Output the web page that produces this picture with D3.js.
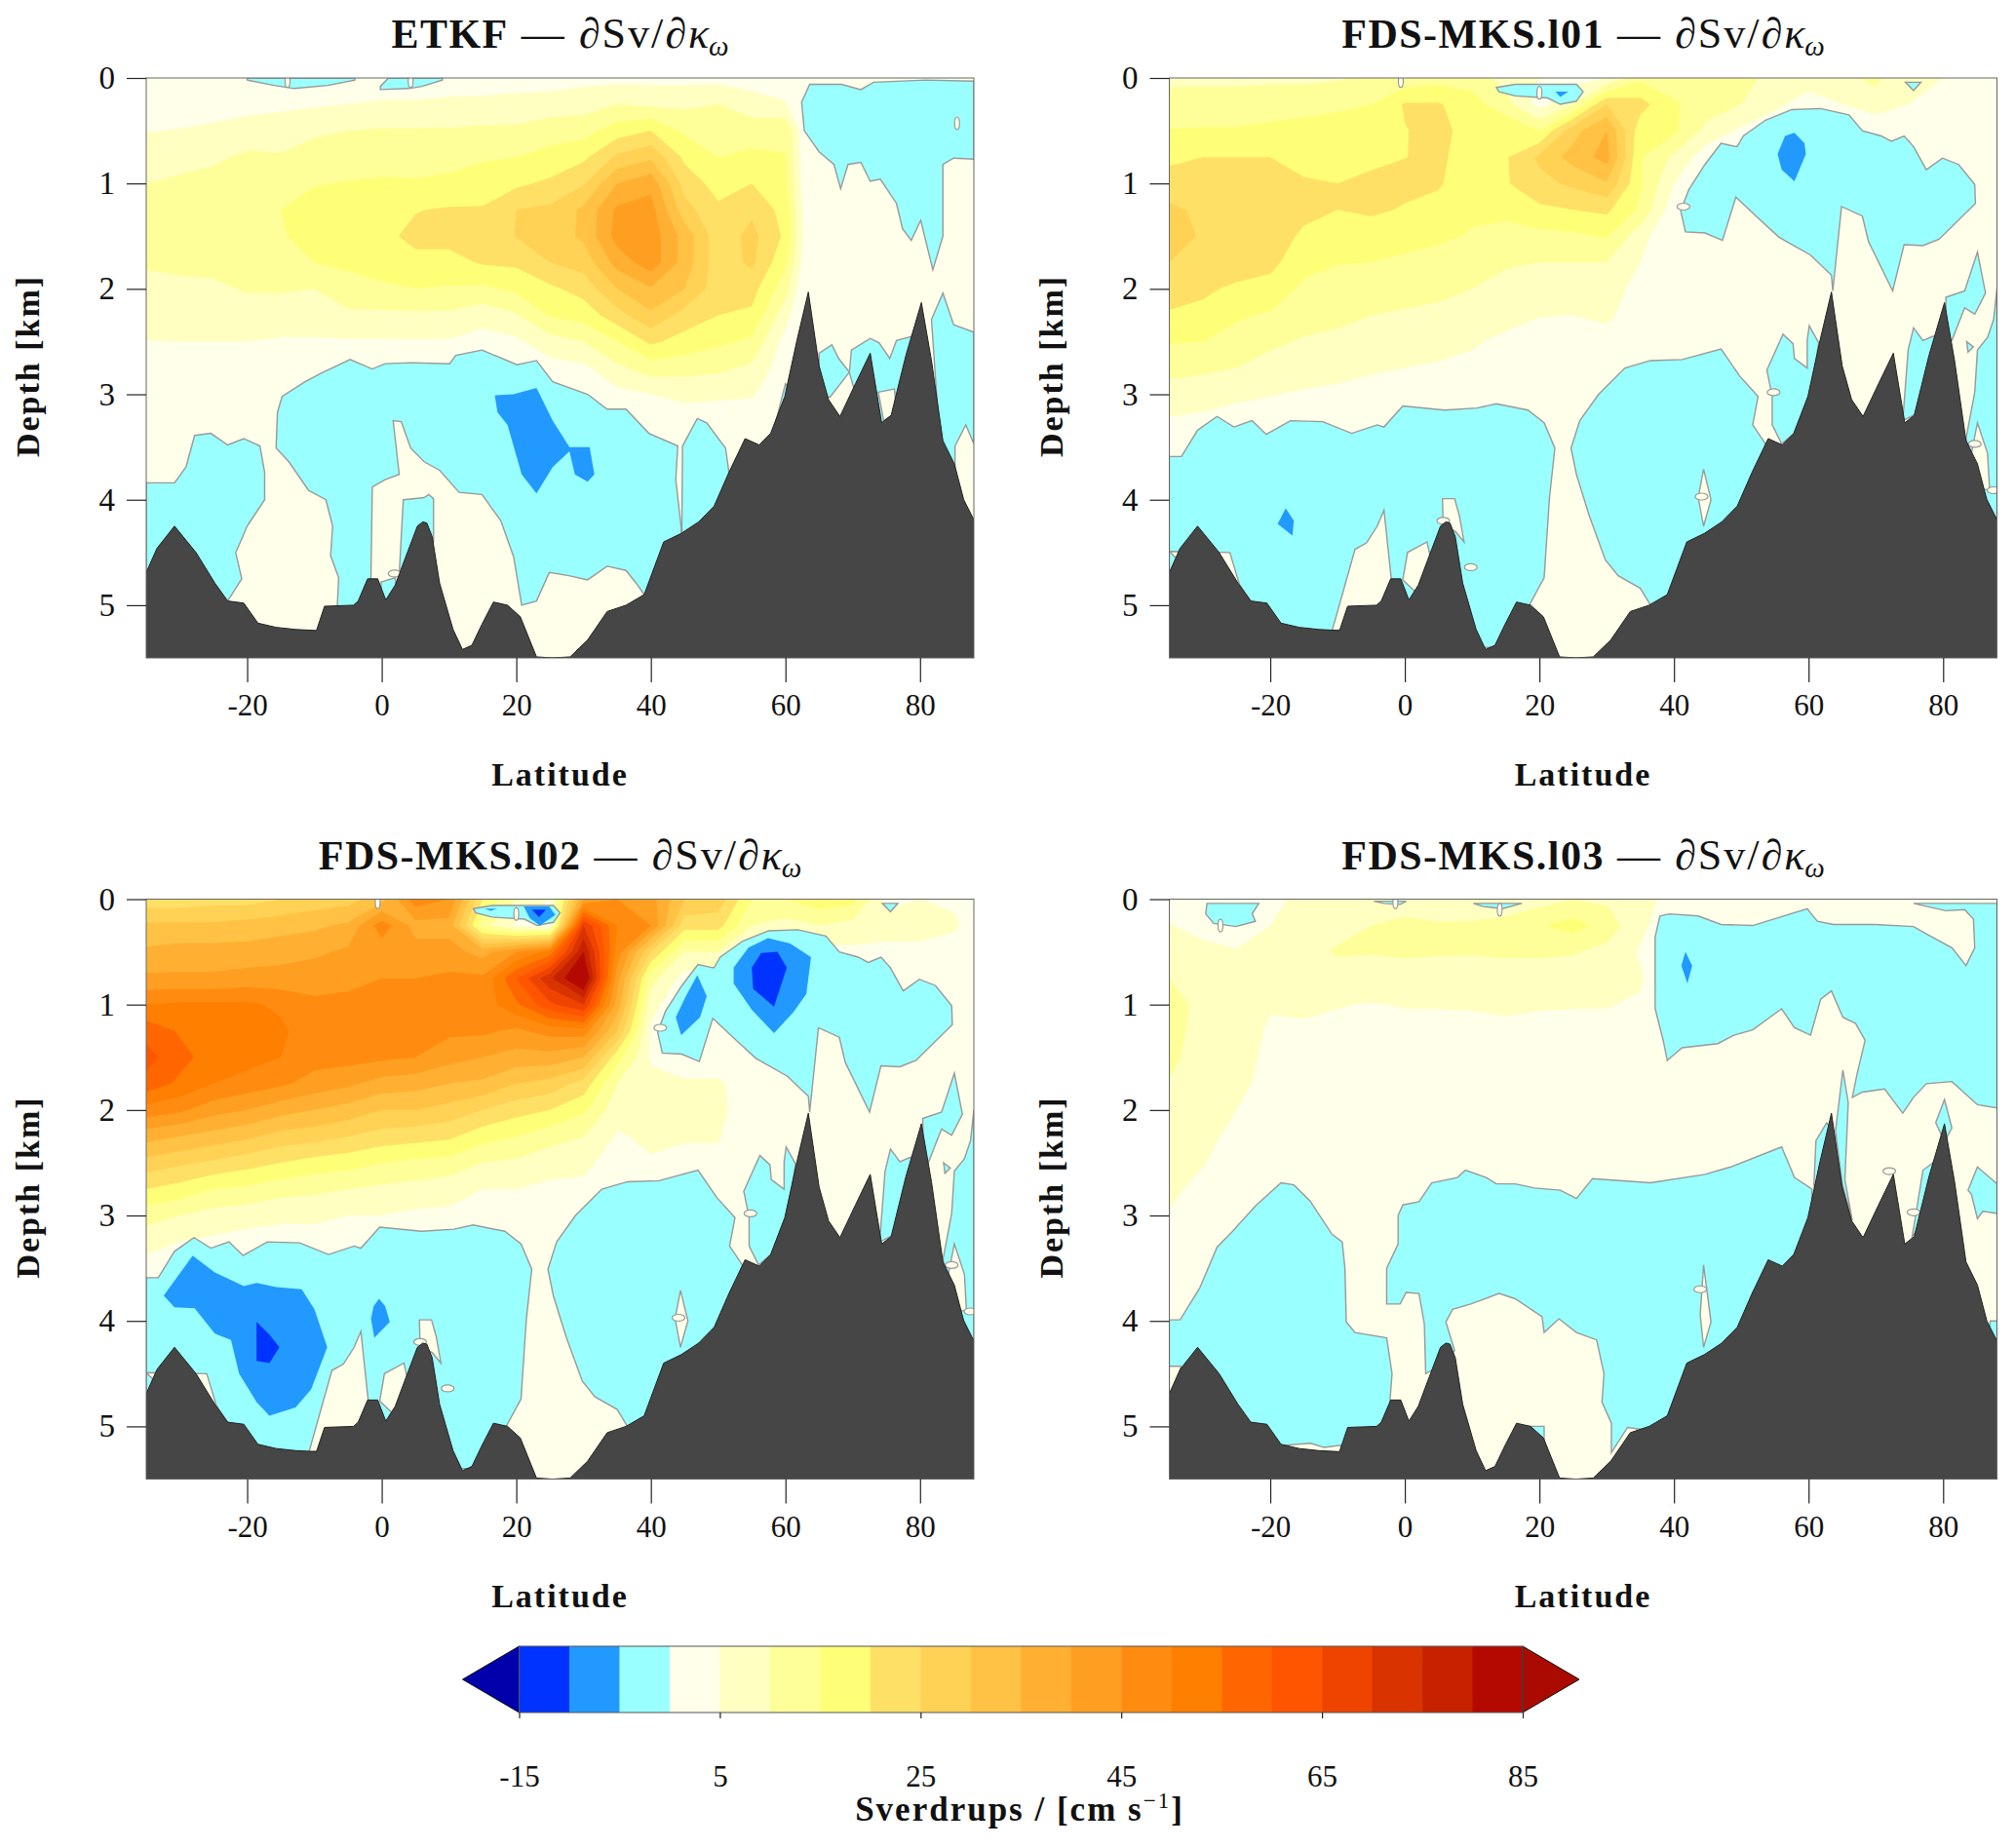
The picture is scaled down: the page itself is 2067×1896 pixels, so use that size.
<!DOCTYPE html>
<html>
<head>
<meta charset="utf-8">
<script src="https://cdn.jsdelivr.net/npm/d3@7"></script>
<style>
	html, body { margin: 0; padding: 0; background: #fff; }
	text { font-family: "Liberation Serif", serif; fill: #111; }
	.tick line { stroke: #222; stroke-width: 1.2; }
</style>
</head>
<body>
<svg id="chart" width="2067" height="1896"></svg>
<script>
// grid of the warm field: one profile per latitude, one value per depth level (missing = 0)
const latitudes = [-35, -30, -25, -20, -15, -10, -5, 0, 5, 10, 15, 20, 25, 30, 35, 40, 45, 50, 55, 60, 65, 70, 75, 80, 85, 90];
const depthLevels = [0, 0.25, 0.5, 0.75, 1, 1.25, 1.5, 1.75, 2, 2.25, 2.5, 2.75, 3, 3.25, 3.5];

const etkfField = [
	[1,3,4.8,7.5,10,12,12,10.5,8.7,6.7,4.9,3.5,2.5,2,1.5],
	[1,3,5.2,8,11,13,13,11,9,7,5,3.5,2.5,2,1.5],
	[1,3.2,5.8,9,12,13.5,13.5,11.5,9,7,5,3.5,2.5,2,1],
	[1,3.5,7,11,13,14,14,12.5,10.5,7.5,5,3.5,2.5,1.5,1],
	[1,4,7.5,10.5,13,15,14.5,12.5,10.5,7.5,4.5,3.5,2,1,1],
	[1.5,4.5,9,12.5,14.8,16.5,17,15,10,7.5,4.5,3.5,2,1,1],
	[2,5,10,13,15.2,17,18,16,13,9,4.5,3,2,1,1],
	[2.5,5.5,10.5,13.5,15.5,18,19,17.5,14,9,4.5,3,2,1,1],
	[2.5,5.5,10.5,13,15.5,19.8,21,19,15,9,4.6,3,2,1,1],
	[2.5,6,10.5,13.5,16,20.5,21.5,18.5,14.5,9,4.5,3,2,1,1],
	[3,6,11,14.5,17,20.5,22,20.5,14,7,3,2,2,1,1],
	[3,6.5,11,15,19,25,25.2,21,16,9.5,4,2,2,1,1],
	[3,7,13,16.5,21,26,27,25,19,15.5,8,3,2,1,1],
	[3.5,8,13,19,24.5,31,31,27,22,17,10,4,2,1,1],
	[3.5,10,17.5,26,35,41,42,37,30,23,15,9,3.5,1,1],
	[3.5,9,20,29,38.5,42,43,43,34.5,29,21,12.5,5,4,1],
	[3.5,9,14,19,23,27,33,33,30,23,18,12,6,3,1],
	[3.5,10,13,15,18,21,22,22,22,20,16,11,6,2,1],
	[3,7,13,16,20,24,26.5,26,22,19,14,9,5.5,2,1],
	[2,5.5,14,15.2,16,18,19,16,12,7,3,2,1,1,1],
	[0,-8,-8,-8,-8,-8,-8,-8,-8,-8],
	[], [], [], [], []
];

const l01Field = [
	[9,12,15.2,19,22,26,27,25,22,19.5,15.3,11.5,8,4.5,2],
	[9,12,15.5,20,22,24,24.5,23,21,18.5,15,11,7,4,2],
	[9,12,15.5,20,22,24,24,23,19,15.5,13.5,10,6,3,2],
	[9,13,16,20,22.5,23,23,21.5,18,14.5,11,8,5.2,3,2],
	[9,13,17,18.5,20.5,21.5,19,16.5,14,12,9.5,7,4.5,3,2],
	[9.5,14,17.5,18.5,20,20,17.5,15.2,13,11,9,6.5,4,2,1],
	[11,15,18,19,21,21,17,15,12.5,10,8,5.5,3.5,2,1],
	[12,20.5,19.8,19.9,21.5,19.5,17,14,11.5,9.5,7,5,3,2,1],
	[13,20.5,21.5,21,20.5,18.5,16,13,11,9,6.5,4.5,3,2,1],
	[13,17,18,17.5,17,16,14.5,12,10,8,5.5,4,3,1,1],
	[8,12,19,19.5,19.5,16.5,13,10.5,8.5,6.5,4,3,2],
	[5,3,15,26,23.5,19,13.5,10,7.5,5.2,3,2],
	[3,10,28,32,26,20,14,10,7,5,3],
	[5,25,35,37,29.5,21,15.5,10,6,5.5,4],
	[14,22,17,15.5,15.5,14,7,5,4.2,3.5],
	[13,15.5,16,9,5,2],
	[12,13,8,2],
	[11,10,4],
	[9,6,2],
	[7,3],
	[9,5],
	[11,8],
	[6,5,3],
	[5,4],
	[4,3],
	[]
];

const l02Field = [
	[22,31,36,41,50,58,62,58,48,37,28,20,12,7,3],
	[22,31,37,41,51,54.5,56.5,54,46,35,26,18,10,5,2],
	[23,31,37,41,51,53,53,50,42,33,24,15,8,4,2],
	[23,32,37,42,51,52,52,48,40,31,22,14,7,3,1],
	[25,33,38,42,49,51,50,46,37,28,20,12,6,3,1],
	[27,34,39,43,46,47,47,43,35,27,18,11,6,3],
	[28,36,41,44,46,47,47,41,33,25,17,10,5,2],
	[33,48,42,45,47,47,46,38,30,23,15,9,5],
	[48,38,42,45,47,47,45,37,30,22,14,8,4],
	[45,38,42,46,47,46,42,35,28,21,13,7,4],
	[20,12,38,46,47,46,40,34,25,17,10,5,3],
	[10,4,45,60,54,44,38,30,22,15,9,5,3],
	[5,3,52,74,64,47,38,28,20,12,7,4,3],
	[40,70,80,88,70,48,35,23,16,10,6,4],
	[45,50,48,42,38,30,17,10,7,4.5,3,1],
	[42,45,25,12,7,4,4.5,6,7,6,4.5,3,2],
	[30,22,10,3,0,0,3,5.5,7,5.5,3.5,2],
	[28,22,10,3,0,0,3,5.5,7,5.5,3.5,2],
	[15,10,1,0,0,0,3,3],
	[15,8],
	[18,10,3],
	[17,8,4],
	[3,8,3],
	[5,8,3],
	[4,6,2],
	[]
];

const l03Field = [
	[3,5.2,7.5,10,11.5,11.5,11,9.8,8.5,7.5,6.5,5.7,4.8,3.5,2],
	[3,3.8,6,8,9,8.5,8,7.5,7,6,5.2,4,3,2,1],
	[3,3.5,5.2,7,7.5,7,6.8,6.2,5,4,3,2,1],
	[4,5,7.5,7.5,5.3,4.5,4,3.5,3,2.5,2,1,1],
	[6,7,8,7,5.6,4.5,4,3,3,2],
	[8,8.5,10.5,8,5.2,4],
	[8,10,10.3,7.5,4.8,4],
	[6,12,10.8,7.5,5.2,4],
	[7,10.5,10.5,7.5,5.2,4],
	[5,11,10.4,7.5,5.3,4],
	[6,12,10.8,7.5,5.8,4],
	[8,14.5,10.8,7.5,5.3,4],
	[10,17,10.4,7.5,5.2,4],
	[9,13,8.5,7.5,5.2,4],
	[6,6,4.5,5.5,4.5,3],
	[4,2],
	[], [], [], [], [], [], [], [], [], []
];

// sea floor, [latitude, depth km]
const bathymetry = [
	[-35,4.69],[-33.4,4.46],[-30.8,4.25],[-27.6,4.5],[-24.8,4.79],[-22.9,4.96],[-20.5,4.98],[-18.4,5.17],[-15.7,5.21],[-12.8,5.23],[-9.7,5.24],[-8.5,5.01],
	[-4.2,5],[-3.5,4.96],[-2.1,4.75],[-0.6,4.75],[0.6,4.95],[2,4.81],[3.4,4.57],[5.3,4.25],[6.1,4.21],[6.7,4.22],[7.5,4.35],[8.6,4.79],[10.6,5.23],[12,5.42],
	[13.4,5.38],[14.9,5.18],[16.6,4.97],[18.7,5],[20.6,5.11],[23,5.49],[25.4,5.5],[28,5.49],[30.6,5.33],[33.5,5.06],[36.3,5],[39,4.9],[41.9,4.4],[44.5,4.32],
	[47.1,4.21],[49.4,4.06],[51.6,3.74],[54,3.42],[56.1,3.48],[57.8,3.37],[59.9,3.02],[61.7,2.49],[63.4,2.03],[65,2.73],[66.4,3.05],[68.1,3.21],[70.4,2.9],
	[72.6,2.61],[74.3,3.27],[75.7,3.2],[77.9,2.63],[80.2,2.13],[81.7,2.68],[83.4,3.44],[85.1,3.66],[86.5,4],[88,4.19]
];

// isolines below the warm field, [level, [[latitude, depth], ...]], painted in order
const etkfRings = [
	[-5, [[-20,0.02],[-16,0.07],[-13,0.1],[-8,0.07],[-4,0.02],[-4,0],[-20,0]]],
	[-5, [[-0.2,0.11],[4,0.1],[6,0.08],[9,0.02],[9,0],[1,0],[-0.2,0.08]]],
	[-5, [[62.4,0.23],[62.8,0.5],[65,0.7],[67.2,0.82],[68.2,1.05],[69.3,0.82],[71.2,0.8],[72.6,0.98],[74.1,0.96],[76.5,1.19],[77.4,1.43],[78.7,1.54],[80.1,1.35],[81.9,1.82],[83.4,1.5],[83.4,0.82],[85,0.76],[88,0.77],[88,0.03],[80.8,0.02],[73.1,0.04],[71.2,0.11],[68.3,0.06],[63.6,0.06]]],
	[-5, [[-14.8,3.02],[-15.5,3.17],[-15.7,3.51],[-13.8,3.64],[-10.9,3.91],[-8.3,4],[-7.3,4.25],[-7.6,4.53],[-6.4,4.74],[-6.6,5],[-6.2,5.08],[-1.6,5.08],[-1.6,4.74],[-1.4,3.88],[0.5,3.81],[2.6,3.76],[1.7,3.25],[2.9,3.26],[4.3,3.51],[6.3,3.64],[8.6,3.72],[11.5,3.93],[14.9,3.95],[17.7,4.2],[19.6,4.54],[20.8,5],[23,4.96],[24.9,4.69],[27.8,4.72],[30.6,4.76],[33.5,4.63],[36.3,4.67],[37.8,4.79],[39,4.9],[39.7,5.2],[44.5,4.45],[44.5,4.26],[43.7,3.81],[44,3.49],[39.7,3.37],[36.3,3.14],[33.5,3.14],[30.6,3],[25.4,2.88],[23,2.68],[20.1,2.72],[14.9,2.58],[11,2.63],[10.1,2.71],[4.4,2.7],[0.5,2.71],[-1.4,2.76],[-4.7,2.67],[-9,2.8],[-11.4,2.88]]],
	[-5, [[44.7,3.49],[46.9,3.23],[48.3,3.27],[51.1,3.51],[51.6,3.74],[52.1,4.15],[44.7,4.35],[44.6,4.26]]],
	[-5, [[3.2,4],[6.3,3.98],[7,3.95],[7.7,3.99],[7.7,4.4],[2.6,4.7]]],
	[-5, [[-0.1,4.78],[2,4.74],[2.5,5],[0,5]]],
	[-5, [[-35,3.84],[-30.8,3.84],[-29.1,3.69],[-27.8,3.39],[-25.4,3.37],[-22.9,3.48],[-20.5,3.42],[-18.1,3.49],[-17.4,3.74],[-17.4,4],[-20,4.25],[-21,4.4],[-21.7,4.5],[-20.8,4.75],[-22.9,4.96],[-25,5.1],[-35,5.1]]],
	[-5, [[65,2.61],[66.9,2.53],[67.9,2.66],[69.5,2.79],[66.6,3.03],[65,3]]],
	[-5, [[69.5,2.79],[69.8,2.58],[72.6,2.47],[73.9,2.51],[75.5,2.66],[76.5,2.49],[78.8,2.45],[80.2,2.6],[77,3.2],[74.3,3.3],[72.6,2.8],[70.4,3]]],
	[0, [[73.8,2.98],[76.2,2.95],[76.5,3.17],[74.6,3.25]]],
	[-5, [[81.7,2.29],[83.4,2.04],[85,2.34],[88,2.41],[88,3.47],[86.8,3.29],[85.2,3.49],[85.2,3.69],[83,3.5]]],
	[-5, [[58,3.4],[60,2.9],[61,3],[59,3.5]]],
	[-10, [[16.8,3.01],[19.6,3],[23,2.94],[25.4,3.25],[27.9,3.5],[30.9,3.5],[31.6,3.76],[30.6,3.83],[28.7,3.76],[27.9,3.54],[25.4,3.69],[23,3.94],[20.8,3.76],[18.7,3.29],[17.2,3.17]]]
];
const etkfLoops = [[85.5,0.43],[1.9,4.7],[-14,0.03],[4.3,0.03]];

// l01 and l02 share their zero isoline
const fdsZeroRings = [
	[-5, [[49.2,0.65],[47,0.62],[44.6,0.82],[42.2,1.06],[41,1.26],[41.7,1.46],[44.6,1.47],[47.2,1.54],[49.2,1.13],[52.2,1.31],[55.6,1.51],[60.3,1.68],[63.4,1.87],[63.6,2.02],[64.9,1.22],[68,1.31],[68.9,1.55],[72.5,2.02],[74.2,1.58],[77,1.59],[79.4,1.53],[84.8,1.19],[84.7,1.01],[82.3,0.82],[79.9,0.76],[77.5,0.87],[75.6,0.65],[74.2,0.55],[72.3,0.6],[70.8,0.55],[68,0.5],[66,0.35],[61.8,0.29],[57.5,0.3],[53.6,0.4],[50.3,0.55],[49.4,0.65]]],
	[-5, [[13.6,0.09],[16.4,0.06],[23.1,0.06],[25.5,0.06],[26.5,0.13],[25.5,0.22],[23.1,0.25],[21.2,0.19],[16.4,0.17],[14,0.13]]],
	[-5, [[74.4,0.04],[76.7,0.04],[75.6,0.12]]],
	[-5, [[-35,3.59],[-33.2,3.59],[-30.8,3.34],[-27.9,3.21],[-25.4,3.31],[-22.7,3.25],[-20.6,3.38],[-17,3.25],[-12.2,3.26],[-7.9,3.37],[-4.1,3.29],[-3.1,3.31],[-0.3,3.11],[5.9,3.15],[10.7,3.13],[13.6,3.09],[18.3,3.15],[20.7,3.27],[22.3,3.51],[21.5,3.98],[20.7,4.74],[18.5,5],[18.5,5.4],[-35,5.4]]],
	[0, [[-35,4.49],[-26,4.5],[-24.6,4.8],[-22.9,4.96],[-30,4.8]]],
	[0, [[-10.8,5.24],[-7.4,4.47],[-5.7,4.41],[-4.1,4.25],[-3.1,4.1],[-2,4.76],[-2,5.2]]],
	[0, [[-0.3,4.76],[0.4,4.5],[3.3,4.4],[4,4.6],[2,4.9]]],
	[0, [[5.6,3.99],[7.4,3.99],[8.1,4.15],[8.8,4.4],[7.5,4.3],[5.7,4.25]]],
	[-5, [[24.7,3.51],[26,3.25],[28.8,3],[32.7,2.75],[36.5,2.68],[41.2,2.67],[47,2.57],[49.8,2.83],[52.5,3.02],[51.7,3.29],[53.6,3.47],[53.6,4.15],[45,5],[36.5,5],[35,4.84],[31.7,4.72],[29.8,4.57],[27.4,4.15],[25.5,3.76]]],
	[0, [[44.4,3.71],[45.5,4],[44.4,4.25],[43.6,3.98]]],
	[-5, [[53.8,2.77],[56.2,2.43],[57.7,2.52],[57.9,2.66],[59.8,2.75],[59.8,2.49],[60.1,2.35],[61.5,2.51],[61.1,2.68],[60.3,2.98],[57.9,3.37],[56,3.47],[54.6,3.29],[54.6,3.02]]],
	[-5, [[74,3.25],[74.8,2.58],[75.6,2.37],[77,2.49],[78.5,2.45],[79.9,2.44],[80,3],[75.6,3.2]]],
	[-5, [[80.4,2.08],[83.2,2.02],[85.1,1.65],[86.3,2.04],[84.7,2.24],[83.2,2.18],[81.3,2.49],[80.5,2.5]]],
	[-5, [[88,2],[87.5,2.29],[86.6,2.46],[85.1,2.58],[84.7,2.98],[83.4,3.42],[85,3.8],[88,4.2]]],
	[0, [[85.1,3.27],[86.6,3.56],[86.9,3.91],[86,3.9],[84.2,3.56]]],
	[-5, [[83.5,2.5],[84.5,2.55],[83.7,2.6]]]
];
const fdsLoops = [[-0.6,0.03],[20,0.14],[41.4,1.22],[5.7,4.2],[9.8,4.64],[54.8,2.98],[44.1,3.97],[84.7,3.47],[87.5,3.91]];

const l01Rings = fdsZeroRings.concat([
	[-10, [[22.4,0.13],[24.3,0.13],[23.1,0.18]]],
	[-10, [[56.5,0.55],[57.9,0.52],[59.4,0.62],[59.6,0.72],[57.9,0.98],[56,0.87],[55.4,0.72]]],
	[-10, [[-17.7,4.08],[-16.5,4.2],[-16.7,4.34],[-18.9,4.23]]]
]);

const l02Rings = fdsZeroRings.concat([
	[-10, [[-28.1,3.38],[-24.8,3.54],[-20.5,3.67],[-18.6,3.64],[-15.7,3.68],[-11.9,3.7],[-10,3.89],[-8.1,4.25],[-10.5,4.65],[-12.8,4.82],[-16.7,4.9],[-18.6,4.77],[-21.2,4.5],[-22.4,4.18],[-24.8,4.12],[-27.8,3.88],[-30.8,3.87],[-32.4,3.76]]],
	[-15, [[-18.6,4.01],[-16.7,4.13],[-15.2,4.25],[-16.7,4.4],[-18.6,4.38]]],
	[-10, [[-0.4,3.79],[0.5,3.86],[1.2,4.01],[-1.1,4.16],[-1.6,3.98],[-1.2,3.86]]],
	[-10, [[46.9,0.72],[48.3,0.92],[47.3,1.12],[44.5,1.29],[43.7,1.12],[45.2,0.92]]],
	[-10, [[54.5,0.46],[57.4,0.37],[60.7,0.42],[63.8,0.55],[63.1,0.9],[61.2,1.07],[58.3,1.27],[55,1.05],[52.3,0.8],[52.3,0.65]]],
	[-15, [[56.4,0.51],[58.8,0.5],[60.2,0.65],[58.3,1.02],[55.2,0.85],[55,0.65]]],
	[-10, [[15.3,0.09],[17.2,0.09],[16.2,0.11]]],
	[-10, [[21.1,0.07],[24.9,0.07],[25.8,0.15],[23.5,0.25],[22,0.18]]],
	[-15, [[22.3,0.1],[24.4,0.1],[23.4,0.17]]]
]);

const l03Rings = [
	[-5, [[37.9,0.16],[39.3,0.14],[43.6,0.16],[47,0.24],[51.7,0.25],[59.8,0.09],[61.3,0.21],[63.7,0.24],[69.9,0.24],[75.6,0.26],[77.5,0.33],[81.3,0.46],[83.4,0.63],[84.7,0.46],[84.5,0.19],[83.2,0.1],[80.4,0.11],[75.6,0.04],[88,0.04],[88,1.98],[85.1,1.95],[81.3,1.73],[77.5,1.75],[75.6,1.88],[74,2.03],[71.3,1.8],[68,1.83],[66.5,1.88],[67.2,1.66],[68.4,1.34],[67,1.18],[65.1,1.12],[63.4,0.87],[61.8,0.95],[60.3,1.29],[57.9,1.22],[56,1.04],[51.7,1.24],[48.9,1.29],[46.5,1.37],[41.2,1.41],[39,1.53],[38.4,1.34],[37.2,1.04],[37.2,0.36]]],
	[-10, [[41.7,0.5],[42.7,0.63],[42,0.8],[41.1,0.63]]],
	[-5, [[-35,3.99],[-33.4,3.99],[-30.5,3.69],[-27.9,3.3],[-25.6,3.15],[-22.2,2.91],[-18.4,2.69],[-16.5,2.71],[-14.1,2.86],[-10.8,3.18],[-9.3,3.25],[-8.9,3.5],[-8.7,4.01],[-7.4,4.11],[-2.7,4.16],[-1.9,4.5],[-2.2,4.75],[-2.2,5.2],[-35,5.2]]],
	[0, [[-18,5.18],[-14,5.16],[-12,5.2],[-9.5,5.18],[-9.5,5.35],[-18,5.35]]],
	[0, [[-35,4.43],[-33.3,4.43],[-33.5,4.6],[-35,4.75]]],
	[-5, [[-1,3],[-0.3,2.9],[2.1,2.87],[4,2.69],[7.8,2.64],[9,2.57],[12.1,2.64],[13.6,2.7],[16.4,2.7],[19.3,2.74],[23.1,2.76],[25.5,2.84],[27.9,2.65],[36.5,2.69],[44.6,2.61],[48.4,2.54],[56,2.35],[57.9,2.64],[60.5,2.75],[60.5,3.2],[55,4],[45,4.6],[40,5],[36.5,5.04],[33.1,5.01],[30.7,5.25],[30.7,4.97],[29.3,4.77],[29.6,4.5],[28.5,4.18],[25.5,4.11],[22.9,3.98],[20.7,4.11],[20.4,3.96],[16.4,3.79],[14,3.74],[9.8,3.84],[7.1,3.89],[6.1,4.01],[7.4,4.28],[6,4.4],[3.1,4.5],[2.9,4.03],[2.1,3.74],[0.2,3.73],[-0.7,3.84],[-2.7,3.84],[-2.7,3.5],[-1,3.27]]],
	[-5, [[18,5],[20.7,5],[20.7,5.2],[19,5.1]]],
	[0, [[44.4,3.47],[45.5,4.01],[44.4,4.25],[43.9,3.94]]],
	[-5, [[61.1,2.29],[62.7,2.12],[63.5,2.2],[61.5,2.9],[60.8,2.71]]],
	[-5, [[65.1,1.62],[65.9,1.93],[65.4,2.66],[66.5,3.05],[65,2.7],[64,2.2]]],
	[-5, [[75.4,3.2],[77,2.57],[78.5,2.5],[78,3]]],
	[-5, [[78.9,2.12],[80.2,1.9],[81.3,2.17],[80.2,2.3]]],
	[-5, [[83.7,2.76],[85.1,2.54],[88,2.7],[88,2.98],[85.9,2.96],[85.1,3.03],[84.2,2.8]]],
	[-5, [[87,4],[88,4],[88,4.3],[86.8,4.1]]],
	[-5, [[-29.4,0.04],[-21.7,0.04],[-22.7,0.14],[-22.2,0.21],[-25.1,0.26],[-28.4,0.23],[-29.6,0.14]]],
	[-5, [[-4.6,0.02],[0.2,0.02],[-0.7,0.05],[-3.1,0.04]]],
	[-5, [[10.2,0.04],[17.4,0.04],[14.5,0.09],[11.7,0.07]]]
];
const l03Loops = [[-27.4,0.25],[-1.4,0.03],[14.1,0.1],[43.9,3.7],[72,2.58],[75.6,2.97]];

const legendBreaks = [-15, -10, -5, 0, 5, 10, 15, 20, 25, 30, 35, 40, 45, 50, 55, 60, 65, 70, 75, 80, 85];
const legendColours = ['#0000aa', '#0033ff', '#2299ff', '#99ffff', '#ffffea', '#ffffc2', '#ffff99', '#ffff77', '#ffe066', '#ffd155', '#ffc244', '#ffb033', '#ff9f22', '#ff8c11', '#ff7f00', '#ff6600', '#ff5500', '#ee4400', '#d93300', '#c62200', '#b30900', '#aa0a00'];
const legendTicks = [-15, 5, 25, 45, 65, 85];
const latTicks = [-20, 0, 20, 40, 60, 80];
const depthTicks = [0, 1, 2, 3, 4, 5];

const panelWidth = 849;
const panelHeight = 595;
const panels = [
	{name: 'ETKF', field: etkfField, rings: etkfRings, loops: etkfLoops, left: 150, top: 80},
	{name: 'FDS-MKS.l01', field: l01Field, rings: l01Rings, loops: fdsLoops, left: 1199.5, top: 80},
	{name: 'FDS-MKS.l02', field: l02Field, rings: l02Rings, loops: fdsLoops, left: 150, top: 922.5},
	{name: 'FDS-MKS.l03', field: l03Field, rings: l03Rings, loops: l03Loops, left: 1199.5, top: 922.5}
];

const svg = d3.select('#chart');
const colour = d3.scaleThreshold().domain(legendBreaks).range(legendColours);
const warmLevels = legendBreaks.filter(level => level >= 5 && level < 85);
const x = d3.scaleLinear().domain([-35, 88]).range([0, panelWidth]);
const y = d3.scaleLinear().domain([0, 5.5]).range([0, panelHeight]);
const plainNumber = d => `${d}`;

function flatten(field) {
	const values = [];
	depthLevels.forEach((depth, row) => {
		latitudes.forEach((lat, col) => values.push(field[col][row] || 0));
	});
	return values;
}

function drawPanel(panel, index) {
	const g = svg.append('g').attr('transform', `translate(${panel.left},${panel.top})`);
	const clipId = `clip-${index}`;
	g.append('clipPath').attr('id', clipId)
		.append('rect').attr('width', panelWidth).attr('height', panelHeight);

	const plot = g.append('g').attr('clip-path', `url(#${clipId})`);
	plot.append('rect').attr('width', panelWidth).attr('height', panelHeight).attr('fill', colour(0));

	// warm field, grid cell centres sit at i + 0.5 in d3.contours
	const latStep = latitudes[1] - latitudes[0];
	const depthStep = depthLevels[1] - depthLevels[0];
	const project = d3.geoTransform({
		point(px, py) {
			this.stream.point(x(latitudes[0] + (px - 0.5) * latStep), y((py - 0.5) * depthStep));
		}
	});
	const path = d3.geoPath(project);
	const contours = d3.contours()
		.size([latitudes.length, depthLevels.length])
		.thresholds(warmLevels)(flatten(panel.field));
	plot.selectAll('path.band').data(contours).join('path')
		.attr('class', 'band')
		.attr('d', path)
		.attr('fill', d => colour(d.value));

	const ringLine = d3.line().x(d => x(d[0])).y(d => y(d[1])).curve(d3.curveLinearClosed);
	plot.selectAll('path.ring').data(panel.rings).join('path')
		.attr('class', 'ring')
		.attr('d', d => ringLine(d[1]))
		.attr('fill', d => colour(d[0]))
		.attr('stroke', d => d[0] >= -5 ? '#999' : 'none')
		.attr('stroke-width', 1.4);

	plot.selectAll('ellipse').data(panel.loops).join('ellipse')
		.attr('cx', d => x(d[0]))
		.attr('cy', d => y(d[1]))
		.attr('rx', d => d[1] < 0.5 ? 2.5 : 6.5)
		.attr('ry', d => d[1] < 0.5 ? 6.5 : 3.5)
		.attr('fill', colour(0))
		.attr('stroke', '#999')
		.attr('stroke-width', 1.2);

	const floor = d3.area().x(d => x(d[0])).y0(panelHeight).y1(d => y(d[1]));
	plot.append('path').attr('d', floor(bathymetry))
		.attr('fill', '#464646').attr('stroke', '#222').attr('stroke-width', 1);

	g.append('rect').attr('width', panelWidth).attr('height', panelHeight)
		.attr('fill', 'none').attr('stroke', '#666').attr('stroke-width', 1);

	const xAxis = d3.axisBottom(x).tickValues(latTicks).tickSize(25).tickPadding(12).tickFormat(plainNumber);
	const yAxis = d3.axisLeft(y).tickValues(depthTicks).tickSize(20).tickPadding(12).tickFormat(plainNumber);
	g.append('g').attr('transform', `translate(0,${panelHeight})`).call(xAxis)
		.call(a => a.select('.domain').remove())
		.selectAll('text').attr('font-size', 31).attr('font-family', '"Liberation Serif", serif').attr('fill', '#111');
	g.append('g').call(yAxis)
		.call(a => a.select('.domain').remove())
		.selectAll('text').attr('font-size', 33).attr('font-family', '"Liberation Serif", serif').attr('fill', '#111');

	const title = g.append('text').attr('x', panelWidth / 2).attr('y', -31)
		.attr('text-anchor', 'middle').attr('font-size', 44);
	title.append('tspan').attr('font-weight', 'bold').attr('font-size', 42).attr('letter-spacing', 1.5).text(panel.name);
	title.append('tspan').attr('letter-spacing', 2).text(' — ∂Sv/∂');
	title.append('tspan').attr('font-style', 'italic').text('κ');
	title.append('tspan').attr('font-style', 'italic').attr('font-size', 29).attr('dy', 8).text('ω');

	g.append('text').attr('x', panelWidth / 2).attr('y', panelHeight + 131)
		.attr('text-anchor', 'middle').attr('font-size', 34).attr('font-weight', 'bold').attr('letter-spacing', 2)
		.text('Latitude');
	g.append('text').attr('transform', `translate(-110,${panelHeight / 2 - 2}) rotate(-90)`)
		.attr('text-anchor', 'middle').attr('font-size', 34).attr('font-weight', 'bold').attr('letter-spacing', 2)
		.text('Depth [km]');
}

panels.forEach(drawPanel);

// colour bar
const barTop = 1689;
const barHeight = 68;
const barScale = d3.scaleLinear().domain([-15, 85]).range([532.5, 1562]);
const tipLength = 58;
const bar = svg.append('g').attr('transform', `translate(0,${barTop})`);
bar.selectAll('rect').data(d3.pairs(legendBreaks)).join('rect')
	.attr('x', d => barScale(d[0]))
	.attr('width', d => barScale(d[1]) - barScale(d[0]) + 0.5)
	.attr('height', barHeight)
	.attr('fill', d => colour(d[0]));
bar.append('path')
	.attr('d', `M${barScale(-15)},0L${barScale(-15) - tipLength},${barHeight / 2}L${barScale(-15)},${barHeight}Z`)
	.attr('fill', colour(-20)).attr('stroke', '#111');
bar.append('path')
	.attr('d', `M${barScale(85)},0L${barScale(85) + tipLength},${barHeight / 2}L${barScale(85)},${barHeight}Z`)
	.attr('fill', colour(90)).attr('stroke', '#111');
bar.append('rect').attr('x', barScale(-15)).attr('width', barScale(85) - barScale(-15)).attr('height', barHeight)
	.attr('fill', 'none').attr('stroke', '#555').attr('stroke-width', 1);

const barAxis = d3.axisBottom(barScale).tickValues(legendTicks).tickSize(6).tickPadding(48).tickFormat(plainNumber);
bar.append('g').attr('transform', `translate(0,${barHeight})`).call(barAxis)
	.call(a => a.select('.domain').remove())
	.selectAll('text').attr('font-size', 31).attr('font-family', '"Liberation Serif", serif').attr('fill', '#111');

const barTitle = svg.append('text').attr('x', 1046).attr('y', 1868)
	.attr('text-anchor', 'middle').attr('font-size', 35).attr('font-weight', 'bold').attr('letter-spacing', 2);
barTitle.append('tspan').text('Sverdrups / [cm s');
barTitle.append('tspan').attr('font-size', 23).attr('font-weight', 'normal').attr('dy', -13).text('−1');
barTitle.append('tspan').attr('dy', 13).text(']');
</script>
</body>
</html>
